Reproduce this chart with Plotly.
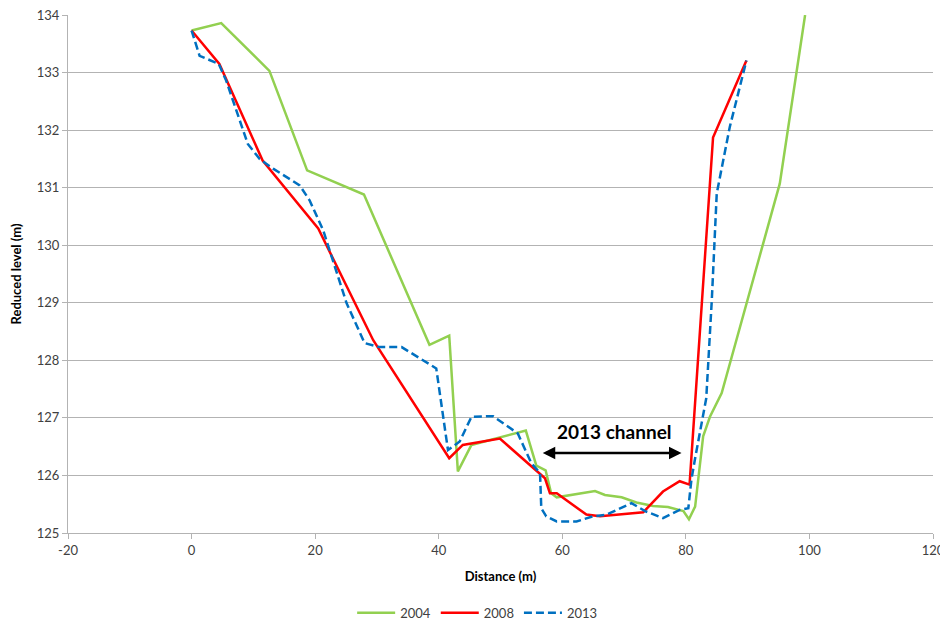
import plotly.graph_objects as go

x2004 = [0, 4.8, 12.6, 18.7, 27.9, 38.5, 41.7, 43.1, 45.3, 54.1, 55.8, 57.3, 58.2, 59.1, 65.3, 66.9, 69.6, 72.0, 74.7, 77.1, 79.6, 80.5, 81.5, 82.8, 83.9, 85.8, 95.2, 99.3]
y2004 = [133.73, 133.86, 133.03, 131.30, 130.88, 128.27, 128.43, 126.07, 126.53, 126.78, 126.17, 126.09, 125.69, 125.62, 125.73, 125.66, 125.62, 125.53, 125.47, 125.45, 125.38, 125.24, 125.46, 126.68, 127.02, 127.43, 131.07, 134.0]

x2008 = [0, 4.5, 11.5, 20.5, 29.4, 41.7, 43.9, 49.9, 57.2, 58.0, 59.1, 63.9, 66.1, 73.1, 76.3, 79.0, 80.6, 84.4, 89.8]
y2008 = [133.73, 133.15, 131.47, 130.29, 128.35, 126.30, 126.53, 126.64, 125.95, 125.69, 125.69, 125.32, 125.29, 125.36, 125.72, 125.90, 125.84, 131.87, 133.21]

x2013 = [0, 1.3, 4.4, 5.6, 9.1, 11.0, 13.2, 17.5, 19.1, 21.3, 25.1, 28.0, 30.4, 34.0, 39.6, 41.5, 43.4, 45.3, 48.8, 52.8, 55.0, 56.4, 56.6, 57.4, 59.1, 62.3, 65.0, 67.2, 71.2, 73.4, 76.3, 79.0, 80.4, 80.9, 81.5, 83.3, 84.2, 85.0, 87.1, 89.8]
y2013 = [133.73, 133.29, 133.15, 132.86, 131.76, 131.50, 131.33, 131.04, 130.78, 130.26, 128.99, 128.30, 128.23, 128.23, 127.86, 126.44, 126.59, 127.02, 127.03, 126.73, 126.21, 126.04, 125.43, 125.29, 125.20, 125.20, 125.29, 125.32, 125.52, 125.38, 125.26, 125.40, 125.43, 125.93, 126.30, 127.34, 129.05, 130.90, 132.05, 133.21]

x_ticks = [-20, 0, 20, 40, 60, 80, 100, 120]
x_tick_text = ["-20", "0", "20", "40", "60", "80", "100", "120"]
y_ticks = [125, 126, 127, 128, 129, 130, 131, 132, 133, 134]

FONT = "Lato, Open Sans, Arial"
TICKCOL = "#404040"

fig = go.Figure()
fig.add_trace(go.Scatter(x=x2004, y=y2004, mode="lines", name="2004",
                         line=dict(color="#92D050", width=2.5)))
fig.add_trace(go.Scatter(x=x2008, y=y2008, mode="lines", name="2008",
                         line=dict(color="#FF0000", width=2.5)))
fig.add_trace(go.Scatter(x=x2013, y=y2013, mode="lines", name="2013",
                         line=dict(color="#0070C0", width=2.5, dash="8px,4px")))

fig.add_annotation(x=79.3, y=126.39, ax=56.6, ay=126.39, xref="x", yref="y",
                   axref="x", ayref="y", text="", showarrow=True,
                   arrowhead=2, arrowside="end+start", arrowsize=1,
                   arrowwidth=2.5, arrowcolor="black")
fig.add_annotation(x=68.4, y=126.77, xref="x", yref="y", text="<b>2013 channel</b>",
                   showarrow=False, font=dict(family=FONT, size=19, color="black"))

fig.update_layout(
    width=940, height=612,
    margin=dict(l=60, r=15, t=7, b=87, autoexpand=False),
    paper_bgcolor="white", plot_bgcolor="white",
    font=dict(family=FONT, size=13, color=TICKCOL),
    showlegend=True,
    legend=dict(orientation="h", x=0.473, xanchor="center", y=-0.154, yanchor="middle",
                font=dict(size=13, color=TICKCOL), tracegroupgap=0, itemwidth=38),
    xaxis=dict(range=[-20, 120], tickvals=x_ticks, ticktext=x_tick_text,
               showgrid=False, zeroline=False, automargin=False, ticklabeloverflow="allow",
               showline=True, linecolor="#B3B3B3", linewidth=1, ticks="outside",
               tickcolor="#B3B3B3", ticklen=5, tickfont=dict(size=13, color=TICKCOL),
               title=dict(text="<b>Distance (m)</b>", font=dict(size=13, color="black"), standoff=15)),
    yaxis=dict(range=[125, 134], tickvals=y_ticks, showgrid=True, gridcolor="#B3B3B3",
               gridwidth=1, zeroline=False, showline=True, linecolor="#B3B3B3",
               linewidth=1, ticks="outside", tickcolor="#B3B3B3", ticklen=5,
               automargin=False, ticklabeloverflow="allow", tickfont=dict(size=13, color=TICKCOL),
               title=dict(text="<b>Reduced level (m)</b>", font=dict(size=13, color="black"), standoff=12)),
)

fig.write_html("out.html")
